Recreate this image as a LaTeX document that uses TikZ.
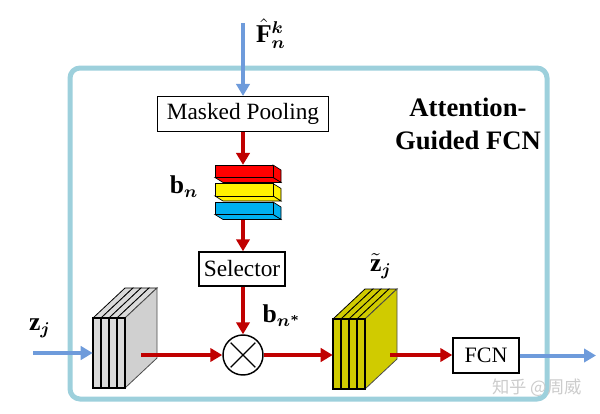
\documentclass[tikz,border=0pt]{standalone}
\usepackage{amsmath,bm,graphicx}
\usepackage{fontspec}
\setmainfont{Liberation Serif}
\newfontfamily\cjk{Noto Sans CJK SC}
\usetikzlibrary{arrows.meta}

\definecolor{boxblue}{HTML}{9DD0DC}
\definecolor{arrblue}{HTML}{6E9BDB}
\definecolor{arrred}{HTML}{C00000}
\definecolor{barblue}{HTML}{00B0F0}
\definecolor{slabyellow}{HTML}{D0CB00}
\definecolor{slabgray}{HTML}{DADADA}
\definecolor{slabgrayside}{HTML}{D0D0D0}

\tikzset{
  redarr/.style={draw=arrred, line width=3pt, -{Triangle[length=9pt,width=10pt]}},
  bluearr/.style={draw=arrblue, line width=3pt, -{Triangle[length=9pt,width=10pt]}},
  opbox/.style={draw, line width=1.1pt, fill=white, inner sep=0pt, font=\fontsize{17.5}{20}\selectfont},
  lbl/.style={inner sep=0pt, font=\fontsize{12}{14}\selectfont},
  ghost/.style={inner sep=0pt, draw=none},
  barline/.style={draw=black, line width=0.5pt},
}
\newcommand\biglbl[1]{\scalebox{1.6}{#1}}

\newcommand\slabstack[4]{%
  \foreach \i in {0,...,3}{
    \filldraw[fill=#3, draw=black, line width=0.6pt] ({#1+8*\i},#2) -- ({#1+8*\i+8},#2) -- ({#1+8*\i+40},{#2-30}) -- ({#1+8*\i+32},{#2-30}) -- cycle;
  }
  \filldraw[fill=#4, draw=black!70, line width=0.6pt] ({#1+32},#2) -- ({#1+64},{#2-30}) -- ({#1+64},{#2+40}) -- ({#1+32},{#2+70}) -- cycle;
  \foreach \i in {0,...,3}{
    \filldraw[fill=#3, draw=black, line width=1.2pt] ({#1+8*\i},#2) rectangle ({#1+8*\i+8},{#2+70});
  }
}

\begin{document}
\begin{tikzpicture}[x=0.75pt,y=-0.75pt]
\useasboundingbox (0,0) rectangle (600,414);

% outer frame
\draw[boxblue, line width=3.75pt, rounded corners=7.5pt] (70,68) rectangle (547,399);

% title
\node[align=center, font=\fontsize{20}{24.5}\selectfont\bfseries] (title) at (468,124) {Attention-\\Guided FCN};

% masked pooling
\coordinate (fin) at (243,23);
\node[opbox, minimum width=128pt, minimum height=26pt] (mp) at (243,114) {Masked Pooling};
\draw[bluearr] (fin) -- (mp.north);
\node[lbl] (fl) at (271,34) {\biglbl{$\hat{\mathbf{F}}^{\bm{k}}_{\bm{n}}$}};

% bars
\foreach \yy/\c in {202/barblue, 183.5/yellow, 165/red} {
  \filldraw[fill=\c, barline] (273,\yy) -- (281,{\yy+5}) -- (281,{\yy+17.5}) -- (273,{\yy+12.5}) -- cycle;
  \filldraw[fill=\c, barline] (215,{\yy+12.5}) -- (273,{\yy+12.5}) -- (281,{\yy+17.5}) -- (223,{\yy+17.5}) -- cycle;
  \filldraw[fill=\c, barline] (215,\yy) rectangle (273,{\yy+12.5});
}
\node[ghost, minimum width=49.5pt, minimum height=41pt] (bars) at (248,192.5) {};
\node[lbl] (bl) at (184,187) {\biglbl{$\mathbf{b}_{\bm{n}}$}};
\draw[redarr] (mp.south) -- (mp.south |- bars.north);

% selector
\node[opbox, minimum width=64.5pt, minimum height=25.5pt] (sel) at (242,269) {Selector};
\draw[redarr] (bars.south -| mp.south) -- (sel.north -| mp.south);

% multiply
\node[draw, circle, line width=1.1pt, minimum size=30pt, inner sep=0pt, fill=white] (mul) at (243,355) {};
\draw[line width=1pt, shorten >=2.5pt, shorten <=2.5pt] (mul.45) -- (mul.225);
\draw[line width=1pt, shorten >=2.5pt, shorten <=2.5pt] (mul.135) -- (mul.315);
\draw[redarr] (sel.south -| mul.north) -- (mul.north);
\node[lbl] (bsl) at (282,316) {\biglbl{$\mathbf{b}_{\bm{n}^{\bm{*}}}$}};

% input stack
\slabstack{93}{318}{slabgray}{slabgrayside}
\node[ghost, minimum width=24pt, minimum height=52.5pt] (gstack) at (109,353) {};
\coordinate (zin) at (33,353);
\draw[bluearr] (zin) -- (zin -| gstack.west);
\node[lbl] (zl) at (40,328) {\biglbl{$\mathbf{z}_{\bm{j}}$}};
\coordinate (gout) at (141,355);
\draw[redarr] (gout) -- (mul.west);

% output stack
\slabstack{333}{319}{slabyellow}{slabyellow}
\node[ghost, minimum width=24pt, minimum height=52.5pt] (ystack) at (349,354) {};
\draw[redarr] (mul.east) -- (mul.east -| ystack.west);
\node[lbl] (ztl) at (381,266) {\biglbl{$\tilde{\mathbf{z}}_{\bm{j}}$}};
\coordinate (yout) at (390,355);

% FCN
\node[opbox, minimum width=49.5pt, minimum height=26pt, font=\fontsize{16.5}{19}\selectfont] (fcn) at (486,355.5) {FCN};
\draw[redarr] (yout) -- (yout -| fcn.west);
\coordinate (fout) at (596,355.5);
\draw[bluearr] (fcn.east) -- (fout);

% watermark
\node[font=\cjk\fontsize{13}{15}\selectfont, text=gray!40] (wm) at (537,388) {知乎 @周威};
\end{tikzpicture}
\end{document}
